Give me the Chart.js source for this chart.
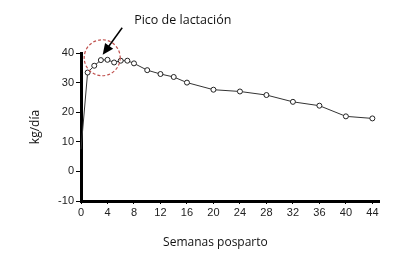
<!DOCTYPE html>
<html>
<head>
<meta charset="utf-8">
<script src="https://cdn.jsdelivr.net/npm/chart.js@4/dist/chart.umd.min.js"></script>
<style>
html, body { margin: 0; background: #fff; }
</style>
</head>
<body>
<canvas id="grafico" width="399" height="262"></canvas>
<script>
// datos
const semanas = [0, 1, 2, 3, 4, 5, 6, 7, 8, 10, 12, 14, 16, 20, 24, 28, 32, 36, 40, 44];
const kgDia = [7.5, 33.4, 35.7, 37.6, 37.7, 36.8, 37.4, 37.4, 36.5, 34.2, 32.9, 31.9, 30.0, 27.6, 27.0, 25.8, 23.5, 22.2, 18.6, 17.9];
const ticksX = [0, 4, 8, 12, 16, 20, 24, 28, 32, 36, 40, 44];
const ticksY = [-10, 0, 10, 20, 30, 40];
const pico = { semana: 3.2, valor: 38.4, texto: "Pico de lactación" };
const tituloX = "Semanas posparto";
const tituloY = "kg/día";

// círculo, flecha y título del eje X
const anotacion = {
    id: "anotacion",
    afterDatasetsDraw(chart) {
        const ctx = chart.ctx;
        const x = chart.scales.x;
        const y = chart.scales.y;
        const cx = x.getPixelForValue(pico.semana);
        const cy = y.getPixelForValue(pico.valor);
        ctx.save();

        ctx.strokeStyle = "#c0504d";
        ctx.lineWidth = 1.2;
        ctx.setLineDash([3, 2]);
        ctx.beginPath();
        ctx.arc(cx, cy, 18, 0, Math.PI * 2);
        ctx.stroke();
        ctx.setLineDash([]);

        // flecha
        const tx = cx + 0.5, ty = cy - 3;
        const sx = cx + 20, sy = cy - 30;
        const ang = Math.atan2(ty - sy, tx - sx);
        ctx.strokeStyle = "#000";
        ctx.fillStyle = "#000";
        ctx.lineWidth = 1.5;
        ctx.beginPath();
        ctx.moveTo(sx, sy);
        ctx.lineTo(tx - 8 * Math.cos(ang), ty - 8 * Math.sin(ang));
        ctx.stroke();
        ctx.beginPath();
        ctx.moveTo(tx, ty);
        ctx.lineTo(tx - 11 * Math.cos(ang) + 5 * Math.sin(ang), ty - 11 * Math.sin(ang) - 5 * Math.cos(ang));
        ctx.lineTo(tx - 11 * Math.cos(ang) - 5 * Math.sin(ang), ty - 11 * Math.sin(ang) + 5 * Math.cos(ang));
        ctx.closePath();
        ctx.fill();

        ctx.font = "12.5px 'Open Sans'";
        ctx.textAlign = "left";
        ctx.textBaseline = "middle";
        ctx.fillStyle = "#111";
        ctx.fillText(pico.texto, cx + 32, cy - 37);

        ctx.font = "12px 'Open Sans'";
        ctx.textAlign = "center";
        ctx.fillText(tituloX, x.getPixelForValue(20.3), 243);
        ctx.restore();
    }
};

new Chart(document.getElementById("grafico").getContext("2d"), {
    type: "scatter",
    data: {
        datasets: [{
            data: semanas.map((s, i) => ({ x: s, y: kgDia[i] })),
            showLine: true,
            borderColor: "#333",
            borderWidth: 1,
            backgroundColor: "#fff",
            pointBorderColor: "#222",
            pointBorderWidth: 1,
            pointRadius: semanas.map((s, i) => i === 0 ? 0 : 2.5),
            clip: false
        }]
    },
    options: {
        responsive: false,
        animation: false,
        layout: { padding: { top: 53, right: 20, left: 0, bottom: 0 } },
        plugins: { legend: { display: false }, tooltip: { enabled: false } },
        scales: {
            x: {
                type: "linear",
                min: 0,
                max: 45,
                afterBuildTicks: s => { s.ticks = ticksX.map(v => ({ value: v })); },
                afterFit: s => { s.height = 61; },
                grid: { drawOnChartArea: false, color: "#000", tickLength: 3 },
                border: { color: "#000", width: 3 },
                ticks: { padding: 2, color: "#222", font: { family: "'Liberation Sans'", size: 11 } }
            },
            y: {
                min: -10,
                max: 40,
                afterBuildTicks: s => { s.ticks = ticksY.map(v => ({ value: v })); },
                afterFit: s => { s.width = 81; },
                grid: { drawOnChartArea: false, color: "#000", tickLength: 5 },
                border: { color: "#000", width: 3 },
                ticks: { padding: 2, color: "#222", font: { family: "'Liberation Sans'", size: 11 } },
                title: {
                    display: true,
                    text: tituloY,
                    color: "#111",
                    font: { family: "'Open Sans'", size: 12 },
                    padding: { top: 28 }
                }
            }
        }
    },
    plugins: [anotacion]
});
</script>
</body>
</html>
